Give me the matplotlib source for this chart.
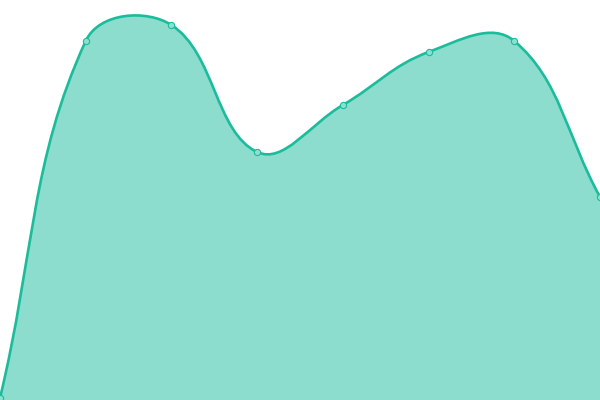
import matplotlib
matplotlib.use('Agg')
import matplotlib.pyplot as plt
import numpy as np
from matplotlib.path import Path
from matplotlib.patches import PathPatch

# Data
labels = ['A', 'B', 'C', 'D', 'E', 'F', 'G', 'H']
values = [2, 359, 375, 248, 295, 348, 359, 203]

line_color = '#1abc9c'
fill_color = (26/255, 188/255, 156/255, 0.5)
tension = 0.4

fig = plt.figure(figsize=(6, 4), dpi=100)
ax = fig.add_axes([0, 0, 1, 1])
ax.set_xlim(0, len(values) - 1)
ax.set_ylim(0, 400)
ax.axis('off')

x = np.arange(len(values), dtype=float)
y = np.array(values, dtype=float)

# spline control points in pixel space (same idea as chart.js tension curves)
pts = ax.transData.transform(np.column_stack([x, y]))
n = len(pts)
cp_prev = pts.copy()
cp_next = pts.copy()
for i in range(n):
    prev = pts[max(i - 1, 0)]
    cur = pts[i]
    nxt = pts[min(i + 1, n - 1)]
    d01 = np.hypot(*(cur - prev))
    d12 = np.hypot(*(nxt - cur))
    tot = d01 + d12
    s01 = d01 / tot if tot else 0
    s12 = d12 / tot if tot else 0
    cp_prev[i] = cur - tension * s01 * (nxt - prev)
    cp_next[i] = cur + tension * s12 * (nxt - prev)

verts = [pts[0]]
codes = [Path.MOVETO]
for i in range(n - 1):
    verts += [cp_next[i], cp_prev[i + 1], pts[i + 1]]
    codes += [Path.CURVE4] * 3
inv = ax.transData.inverted()
curve = inv.transform(np.array(verts))

line_path = Path(curve, codes)
fill_verts = np.vstack([curve, [[x[-1], 0], [x[0], 0], curve[0]]])
fill_codes = codes + [Path.LINETO, Path.LINETO, Path.CLOSEPOLY]
fill_path = Path(fill_verts, fill_codes)

ax.add_patch(PathPatch(fill_path, facecolor=fill_color, edgecolor='none'))
ax.add_patch(PathPatch(line_path, facecolor='none', edgecolor=line_color, lw=1.9))
ax.plot(x, y, 'o', ms=4.5, mfc='#8be0cf', mec=line_color, mew=0.8, clip_on=False)

fig.savefig('out.png', dpi=100)
